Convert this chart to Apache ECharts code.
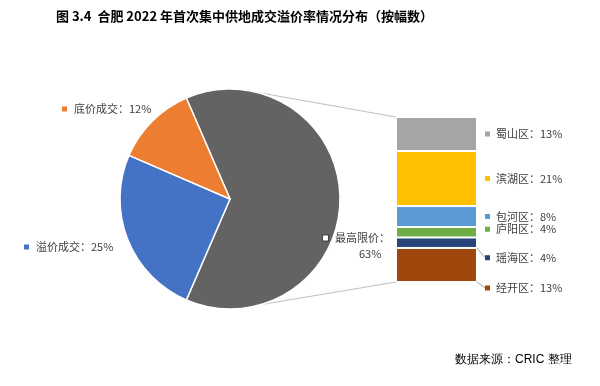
<!DOCTYPE html>
<html><head><meta charset="utf-8">
<script src="https://cdn.jsdelivr.net/npm/echarts@6/dist/echarts.min.js"></script>
<style>html,body{margin:0;padding:0;background:#fff}#c{width:600px;height:386px}</style>
</head><body><div id="c"></div>
<script>
const titleText = '图 3.4  合肥 2022 年首次集中供地成交溢价率情况分布（按幅数）';
const sourceText = '数据来源：CRIC 整理';
const pieNames = ['最高限价', '溢价成交', '底价成交'];
const pieValues = [63, 25, 12];
const pieColors = ['#636363', '#4472c4', '#ed7d31'];
const districts = ['蜀山区', '滨湖区', '包河区', '庐阳区', '瑶海区', '经开区'];
const districtValues = [13, 21, 8, 4, 4, 13];
const districtColors = ['#a5a5a5', '#ffc000', '#5b9bd5', '#70ad47', '#264478', '#9e480e'];
const barCategories = [''];

const FONT = '"Noto Sans CJK SC", "Microsoft YaHei", sans-serif';
const TXT = '#404040';
const pieCenter = [230, 199], pieRadius = 110;

const pieLabelPos = {
  '底价成交': {x: 62, y: 109},
  '溢价成交': {x: 24, y: 247},
  '最高限价': {x: 323, y: 246}
};
const barLabelShift = {'庐阳区': -3, '瑶海区': 15, '经开区': 23};

const barSeries = [];
for (let i = districts.length - 1; i >= 0; i--) {
  const name = districts[i];
  const moved = name === '瑶海区' || name === '经开区';
  barSeries.push({
    type: 'bar', name: name, stack: 'total', barWidth: '100%',
    data: [districtValues[i]],
    itemStyle: {color: districtColors[i], borderColor: '#fff', borderWidth: 1},
    label: {
      show: true, position: 'right', distance: 8,
      formatter: '{m|}{t|' + name + '：' + districtValues[i] + '%}',
      rich: {
        m: {width: 5, height: 5, backgroundColor: districtColors[i]},
        t: {fontSize: 11, color: TXT, fontFamily: FONT, padding: [0, 0, 0, 6]}
      }
    },
    labelLayout: {dy: barLabelShift[name] || 0},
    labelLine: {show: moved, lineStyle: {color: '#a6a6a6', width: 1}},
    silent: true, animation: false
  });
}

const chart = echarts.init(document.getElementById('c'), null, {renderer: 'canvas'});
chart.setOption({
  animation: false,
  backgroundColor: '#fff',
  title: {
    text: titleText, left: 56, top: 10, padding: 0,
    textStyle: {fontSize: 13, fontWeight: 'bold', color: '#000', fontFamily: FONT}
  },
  grid: {left: 396, top: 117, width: 81, height: 165},
  xAxis: {type: 'category', data: barCategories, show: false},
  yAxis: {type: 'value', min: 0, max: 63, show: false},
  series: [{
    type: 'pie', center: pieCenter, radius: pieRadius,
    startAngle: pieValues[0] / 100 * 360 / 2, clockwise: true,
    avoidLabelOverlap: false, silent: true,
    data: pieNames.map((n, i) => ({name: n, value: pieValues[i], itemStyle: {color: pieColors[i]}})),
    itemStyle: {borderColor: '#fff', borderWidth: 1.5},
    label: {
      show: true, position: 'outside',
      formatter: function (p) {
        if (p.name === '最高限价') return '{h|}{t|' + p.name + '：}\n{p|' + p.value + '%}';
        return '{m' + p.dataIndex + '|}{t|' + p.name + '：' + p.value + '%}';
      },
      rich: {
        h: {width: 5, height: 5, backgroundColor: '#fff', borderColor: '#404040', borderWidth: 1},
        m1: {width: 5, height: 5, backgroundColor: pieColors[1]},
        m2: {width: 5, height: 5, backgroundColor: pieColors[2]},
        t: {fontSize: 11, color: TXT, fontFamily: FONT, padding: [0, 0, 0, 7], lineHeight: 16},
        p: {fontSize: 11, color: TXT, fontFamily: FONT, padding: [0, 0, 0, 36], lineHeight: 16}
      }
    },
    labelLine: {show: false},
    labelLayout: function (params) {
      const pos = pieLabelPos[params.text.indexOf('最高') >= 0 ? '最高限价' : (params.text.indexOf('底价') >= 0 ? '底价成交' : '溢价成交')];
      return {x: pos.x, y: pos.y, align: 'left', verticalAlign: 'middle'};
    }
  }].concat(barSeries)
});

// connector lines from pie to bar
const total = districtValues.reduce((a, b) => a + b, 0);
const rect = chart.getModel().getComponent('grid').coordinateSystem.getRect();
const yTop = chart.convertToPixel({yAxisIndex: 0}, total);
const yBot = chart.convertToPixel({yAxisIndex: 0}, 0);
function piePoint(deg) {
  const a = deg * Math.PI / 180;
  return [pieCenter[0] + pieRadius * Math.sin(a), pieCenter[1] - pieRadius * Math.cos(a)];
}
const p1 = piePoint(14), p2 = piePoint(164);
chart.setOption({
  graphic: [{
    type: 'text', left: 455, top: 354,
    style: {text: sourceText, fontSize: 12, fill: '#000', font: '12px ' + FONT}
  }, {
    type: 'line', shape: {x1: p1[0], y1: p1[1], x2: rect.x, y2: yTop},
    style: {stroke: '#bfbfbf', lineWidth: 1}, silent: true
  }, {
    type: 'line', shape: {x1: p2[0], y1: p2[1], x2: rect.x, y2: yBot},
    style: {stroke: '#bfbfbf', lineWidth: 1}, silent: true
  }]
});
</script></body></html>
